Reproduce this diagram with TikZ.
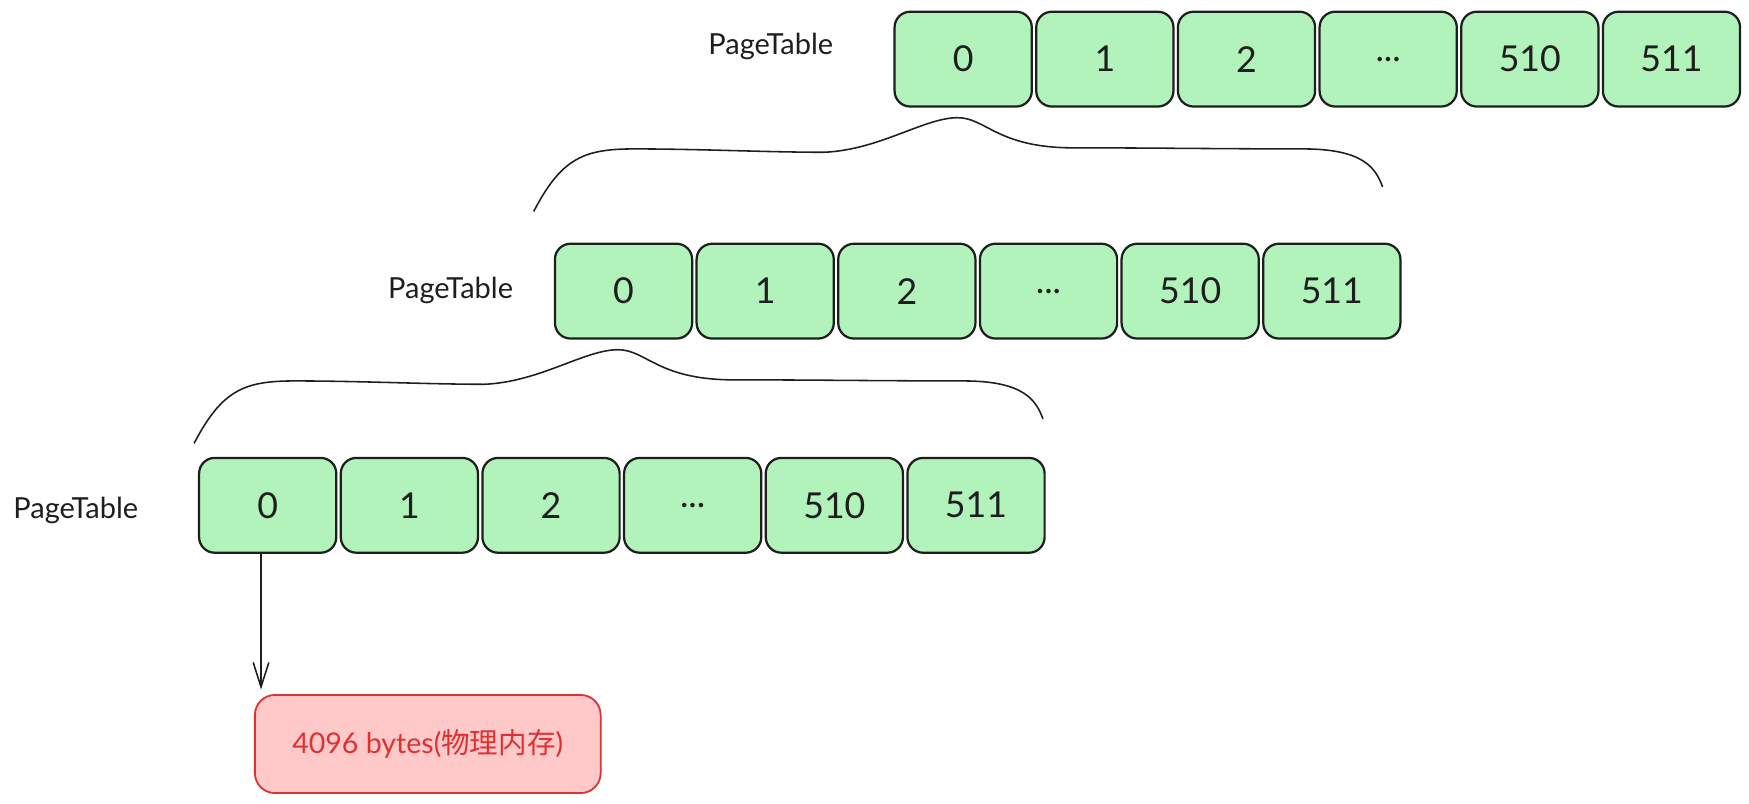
\documentclass[tikz,border=0pt]{standalone}
\usepackage{fontspec}
\setmainfont{Lato}
\newfontfamily\cjk{Noto Sans CJK SC}
\usepackage{tikz}
\usepackage{xcolor}
\usetikzlibrary{positioning, arrows.meta, calc}

\definecolor{cellgreen}{HTML}{B2F2BB}
\definecolor{inkblack}{HTML}{1E1E1E}
\definecolor{memfill}{HTML}{FFC9C9}
\definecolor{memline}{HTML}{E03131}

\begin{document}
\begin{tikzpicture}[
            x=0.5pt, y=-0.5pt,
            node distance=1pt,
            >={Straight Barb[length=11pt, width=7pt]},
            cell/.style={rectangle, draw=inkblack, line width=1pt, rounded corners=7pt, fill=cellgreen,
                    minimum width=61.5pt, minimum height=42.5pt, inner sep=0pt,
                    font=\fontsize{16}{19}\selectfont, text=inkblack},
            tablename/.style={font=\fontsize{13}{15}\selectfont, text=inkblack},
            membox/.style={rectangle, draw=memline, line width=0.8pt, rounded corners=9pt, fill=memfill,
                    minimum width=155pt, minimum height=44pt, font=\fontsize{12.8}{15}\selectfont, text=memline},
            arrow/.style={->, line width=0.7pt, inkblack, shorten >=2pt},
            brace/.style={draw=inkblack, line width=0.7pt},
            bracecurve/.style={insert path={
                    .. controls +(25,-48) and +(-45,0) .. ++(90,-56)
                    .. controls +(60,0) and +(-50,0) .. ++(170,3)
                    .. controls +(50,-2) and +(-30,0) .. ++(120,-31)
                    .. controls +(25,0) and +(-65,-1) .. ++(100,27)
                    .. controls +(70,0) and +(-70,0) .. ++(210,1)
                    .. controls +(55,0) and +(-6,-16) .. ++(71,34)}},
            ]
            \useasboundingbox (0,0) rectangle (1568,720);

            % top level
            \node[tablename] (toplabel) at (691,42) {PageTable};
            \node[cell] (t0) at (863.5,53) {0};
            \node[cell, right=of t0] (t1) {1};
            \node[cell, right=of t1] (t2) {2};
            \node[cell, right=of t2] (tdots) {{.}{.}{.}};
            \node[cell, right=of tdots] (t510) {510};
            \node[cell, right=of t510] (t511) {511};

            % middle level
            \node[tablename] (midlabel) at (404,260) {PageTable};
            \node[cell] (m0) at (559,261) {0};
            \node[cell, right=of m0] (m1) {1};
            \node[cell, right=of m1] (m2) {2};
            \node[cell, right=of m2] (mdots) {{.}{.}{.}};
            \node[cell, right=of mdots] (m510) {510};
            \node[cell, right=of m510] (m511) {511};
            \draw[brace] ($(t0.south)+(-385,93)$) [bracecurve];

            % last level
            \node[tablename] (botlabel) at (68,458) {PageTable};
            \node[cell] (b0) at (240,453) {0};
            \node[cell, right=of b0] (b1) {1};
            \node[cell, right=of b1] (b2) {2};
            \node[cell, right=of b2] (bdots) {{.}{.}{.}};
            \node[cell, right=of bdots] (b510) {510};
            \node[cell, right=of b510] (b511) {511};
            \draw[brace] ($(m0.south)+(-385,93)$) [bracecurve];

            % physical page
            \node[membox] (mem) at (383.5,667) {4096 bytes({\cjk 物理内存})};
            \coordinate (drop) at ([xshift=-3pt]b0.south);
            \draw[arrow] (drop) -- (drop |- mem.north);

        \end{tikzpicture}
\end{document}
